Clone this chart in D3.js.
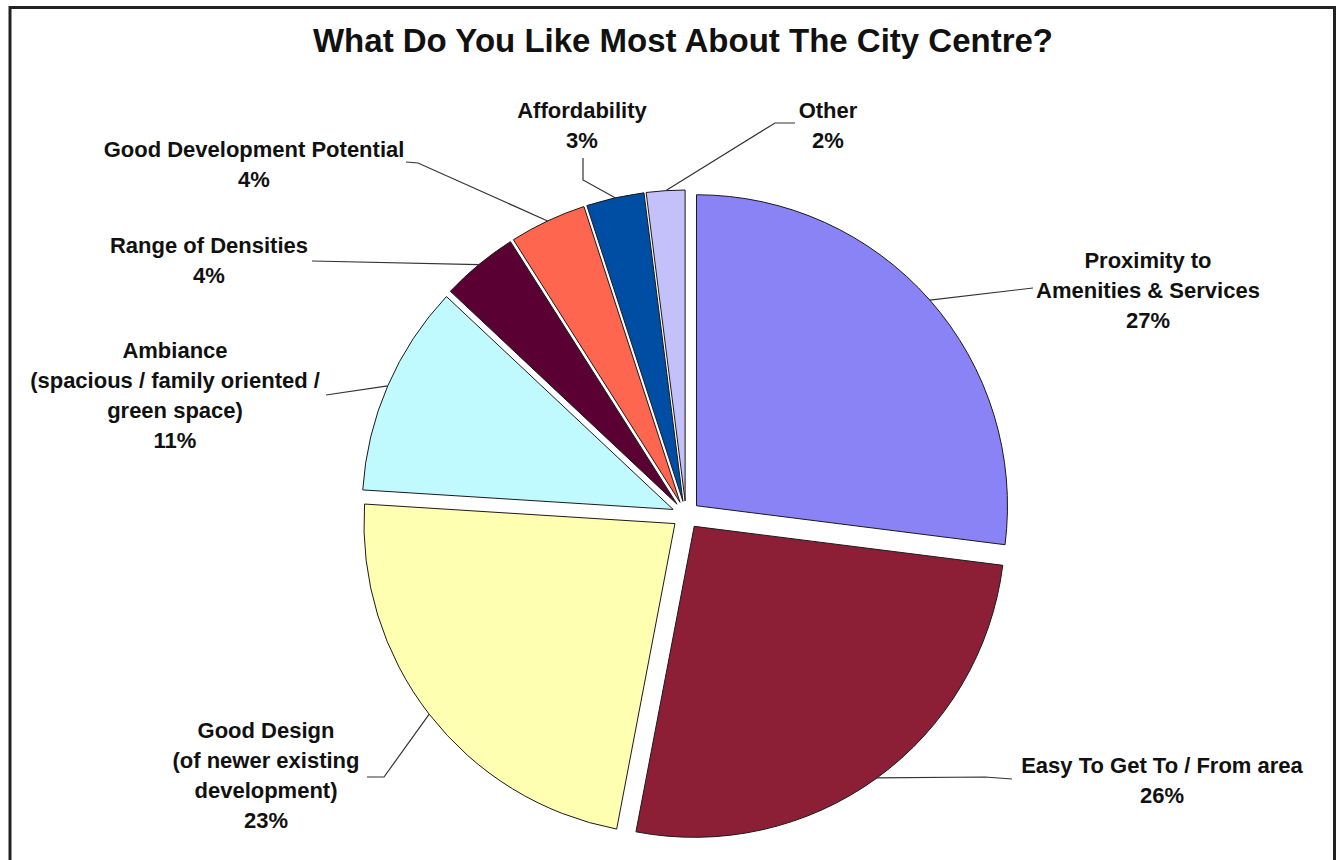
<!DOCTYPE html>
<html>
<head>
<meta charset="utf-8">
<script src="https://cdn.jsdelivr.net/npm/d3@7"></script>
<style>
  html, body { margin: 0; padding: 0; background: #fff; }
  svg { display: block; }
  text { font-family: "Liberation Sans", Arial, sans-serif; fill: #111; }
</style>
</head>
<body>
<svg id="chart" width="1339" height="860"></svg>
<script>
// Survey answers, in drawing order (clockwise from 12 o'clock)
const categories = [
  "Proximity to Amenities & Services",
  "Easy To Get To / From area",
  "Good Design (of newer existing development)",
  "Ambiance (spacious / family oriented / green space)",
  "Range of Densities",
  "Good Development Potential",
  "Affordability",
  "Other"
];
const percentages = [27, 26, 23, 11, 4, 4, 3, 2];
const labelLines = [
  ["Proximity to", "Amenities & Services"],
  ["Easy To Get To / From area"],
  ["Good Design", "(of newer existing", "development)"],
  ["Ambiance", "(spacious / family oriented /", "green space)"],
  ["Range of Densities"],
  ["Good Development Potential"],
  ["Affordability"],
  ["Other"]
];
const sliceColors = ["#8983f5", "#8c1f36", "#ffffb2", "#c0faff", "#5a0033", "#ff6650", "#004ea3", "#c4c0fa"];

const title = "What Do You Like Most About The City Centre?";

// Layout of the pie and its callouts
const W = 1339, H = 860;
const cx = 686, cy = 515, R = 311, explode = 14;
const lineGap = 30;
// label block centre x, first baseline, and leader path end (elbow points listed from the label side)
const labelLayout = [
  { x: 1148, y: 268, leader: [[1033, 288]] },
  { x: 1162, y: 773, leader: [[1012, 779], [985, 777]] },
  { x: 266, y: 738, leader: [[367, 777], [384, 777]] },
  { x: 175, y: 358, leader: [[326, 395]] },
  { x: 209, y: 253, leader: [[312, 261]] },
  { x: 254, y: 157, leader: [[406, 162], [418, 163]] },
  { x: 582, y: 118, leader: [[583, 158], [583, 180]] },
  { x: 828, y: 118, leader: [[795, 123], [775, 123]] }
];

const svg = d3.select("#chart");

// outer frame
svg.append("rect")
  .attr("x", 10).attr("y", 7.5)
  .attr("width", 1324.5).attr("height", 900)
  .attr("fill", "#fff")
  .attr("stroke", "#222").attr("stroke-width", 3);

svg.append("text")
  .attr("x", 683).attr("y", 52)
  .attr("text-anchor", "middle")
  .attr("font-size", 33).attr("font-weight", "bold")
  .text(title);

const pie = d3.pie().sort(null).value(d => d).startAngle(0).endAngle(2 * Math.PI);
const arcs = pie(percentages);
const arc = d3.arc().innerRadius(0).outerRadius(R);

const mid = d => (d.startAngle + d.endAngle) / 2;
const offset = d => [explode * Math.sin(mid(d)), -explode * Math.cos(mid(d))];

const g = svg.append("g").attr("transform", `translate(${cx},${cy})`);

g.selectAll("path.slice")
  .data(arcs)
  .join("path")
  .attr("class", "slice")
  .attr("d", arc)
  .attr("transform", d => { const o = offset(d); return `translate(${o[0]},${o[1]})`; })
  .attr("fill", (d, i) => sliceColors[i])
  .attr("stroke", "#1a1a1a")
  .attr("stroke-width", 1);

// leader lines: from the slice's outer arc at its mid-angle to the label
const line = d3.line();
arcs.forEach((d, i) => {
  const o = offset(d);
  const a = mid(d);
  const start = [cx + o[0] + R * Math.sin(a), cy + o[1] - R * Math.cos(a)];
  const pts = [start].concat(labelLayout[i].leader.slice().reverse());
  svg.append("path")
    .attr("d", line(pts))
    .attr("fill", "none")
    .attr("stroke", "#333")
    .attr("stroke-width", 1.2);
});

// labels with percentage
arcs.forEach((d, i) => {
  const L = labelLayout[i];
  const lines = labelLines[i].concat([percentages[i] + "%"]);
  const t = svg.append("text")
    .attr("text-anchor", "middle")
    .attr("font-size", 22)
    .attr("font-weight", "bold");
  lines.forEach((s, k) => {
    t.append("tspan").attr("x", L.x).attr("y", L.y + k * lineGap).text(s);
  });
});
</script>
</body>
</html>
